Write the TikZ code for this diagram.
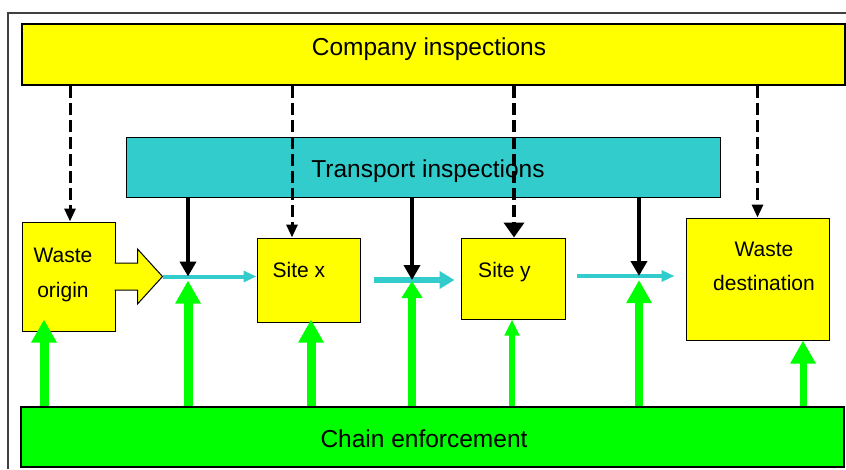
\documentclass[tikz,border=0pt]{standalone}
\usepackage{fontspec}
\setmainfont{Liberation Sans}
\usetikzlibrary{arrows.meta}

\definecolor{boxyellow}{HTML}{FFFF00}
\definecolor{transcyan}{HTML}{33CCCC}
\definecolor{chaingreen}{HTML}{00FF00}

\tikzset{
  box/.style={draw=black,line width=1pt,fill=boxyellow,inner sep=0pt},
  barlabel/.style={font=\fontsize{24.5}{30}\selectfont,inner sep=0pt},
  boxlabel/.style={font=\fontsize{21}{35}\selectfont,align=center,inner sep=0pt},
  compinsp/.style={line width=3pt,dash pattern=on 12pt off 5pt,-{Triangle[length=13pt,width=11pt]}},
  transinsp/.style={line width=4pt,-{Triangle[length=15pt,width=16pt]}},
  flow/.style={transcyan,line width=4pt,-{Triangle[length=13pt,width=11pt]}},
  enforce/.style={chaingreen,line width=9pt,-{Triangle[length=23pt,width=24pt]}}
}

\begin{document}
\begin{tikzpicture}[x=1pt,y=-1pt]
        \useasboundingbox (0,0) rectangle (846,469);
        \draw[black!75,line width=2pt] (8,469) -- (8,13) -- (846,13);

        \node[box,line width=1.5pt,minimum width=823,minimum height=61] (company) at (433.5,54.5) {};
        \node[barlabel,anchor=base] (companytext) at (429,55) {Company inspections};
        \node[box,fill=transcyan,minimum width=594,minimum height=60] (transport) at (423,167) {};
        \node[barlabel,anchor=base] (transporttext) at (428,177) {Transport inspections};
        \node[box,fill=chaingreen,line width=1.5pt,minimum width=823,minimum height=60] (chain) at (432.5,437) {};
        \node[barlabel,anchor=base] (chaintext) at (424,447) {Chain enforcement};

        \node[box,minimum width=93,minimum height=109] (origin) at (68.5,276.5) {};
        \node[boxlabel,anchor=north] (origintext) at (63,248) {Waste\\origin};
        \node[box,minimum width=103,minimum height=84] (sitex) at (308.5,280) {};
        \node[boxlabel,anchor=base] (sitextext) at (299,277) {Site x};
        \node[box,minimum width=104,minimum height=81] (sitey) at (513,278.5) {};
        \node[boxlabel,anchor=base] (siteytext) at (504.5,277) {Site y};
        \node[box,minimum width=143,minimum height=122] (dest) at (757.5,279) {};
        \node[boxlabel,anchor=north,font=\fontsize{21}{34}\selectfont] (desttext) at (764,242) {Waste\\destination};

        \draw[fill=boxyellow,line width=1pt] (origin.east) ++(-1,-13.5) -- ++(23,0) -- ++(0,-14)
              -- ++(25,27.5) coordinate (tip) -- ++(-25,27.5) -- ++(0,-14) -- ++(-23,0);

        \coordinate (f2) at ([xshift=13pt]sitex.east);
        \coordinate (f3) at ([shift={(11,-2.5)}]sitey.east);
        \coordinate (j1) at (188,276.5);
        \coordinate (j2) at (412,280);
        \coordinate (j3) at (639,276);

        \coordinate (e1) at ([xshift=-24.5pt,yshift=12pt]origin.south);
        \coordinate (e2) at ([xshift=2.5pt,yshift=3pt]sitex.south);
        \coordinate (e3) at ([xshift=-1pt]sitey.south);
        \coordinate (e4) at ([xshift=45.5pt]dest.south);

        \draw[flow] (tip) -- (tip -| sitex.west);
        \draw[flow,line width=6pt,-{Triangle[length=15pt,width=17pt]}] (f2) -- ([xshift=-6pt]f2 -| sitey.west);
        \draw[flow] (f3) -- ([xshift=-11pt]f3 -| dest.west);

        \draw[compinsp] ([xshift=1.5pt]origin.north |- company.south) -- ([xshift=1.5pt]origin.north);
        \draw[compinsp] ([xshift=-16.5pt]sitex.north |- company.south) -- ([xshift=-16.5pt]sitex.north);
        \draw[compinsp,line width=4pt,-{Triangle[length=15pt,width=20pt]}] ([xshift=1pt]sitey.north |- company.south) -- ([xshift=1pt]sitey.north);
        \draw[compinsp] (dest.north |- company.south) -- (dest.north);

        \draw[transinsp] (transport.south -| j1) -- (j1);
        \draw[transinsp] (transport.south -| j2) -- (j2);
        \draw[transinsp] (transport.south -| j3) -- (j3);

        \draw[enforce] (chain.north -| j1) -- ([yshift=-4pt]j1);
        \draw[enforce,line width=8pt,-{Triangle[length=17pt,width=20pt]}] (chain.north -| j2) -- ([yshift=-1pt]j2);
        \draw[enforce,line width=8pt] (chain.north -| j3) -- ([yshift=-4pt]j3);
        \draw[enforce] (chain.north -| e1) -- (e1);
        \draw[enforce] (chain.north -| e2) -- (e2);
        \draw[enforce,line width=6pt,-{Triangle[length=16pt,width=14pt]}] (chain.north -| e3) -- (e3);
        \draw[enforce,line width=7pt] (chain.north -| e4) -- (e4);
\end{tikzpicture}
\end{document}
